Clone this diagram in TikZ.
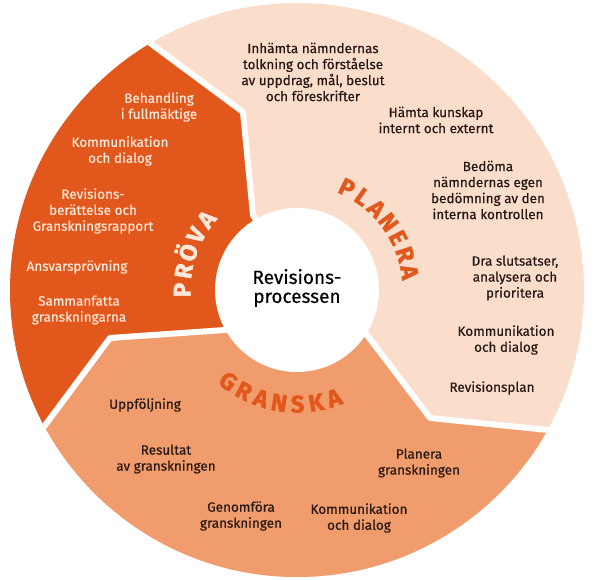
\documentclass[tikz,border=0pt]{standalone}
\usepackage{fontspec}
\setmainfont{Fira Sans}[UprightFeatures = {FakeBold = 0.4}, BoldFeatures = {FakeBold = 1.5}]
\definecolor{planera}{RGB}{250,221,203}
\definecolor{prova}{RGB}{226,88,28}
\definecolor{granska}{RGB}{240,156,108}
\definecolor{textdark}{RGB}{38,24,20}
\definecolor{textlight}{RGB}{253,232,218}

\begin{document}
\begin{tikzpicture}[
    x = 1pt, y = -1pt,
    item/.style = {align = center, text = textdark,
        font = \fontsize{13.5}{16}\selectfont},
    itemlight/.style = {item, text = textlight},
    letter/.style = {inner sep = 0pt, text height = 17pt, text depth = 0pt,
        font = \fontsize{24}{24}\selectfont\bfseries},
    gap/.style = {draw = white, line width = 6pt, line join = round}
]

\useasboundingbox (0,0) rectangle (595,580);

% centre and the three borders between the phases
\coordinate (c) at (297,290);
\coordinate (b1o) at (57,-26);
\coordinate (b1a) at (150,43);
\coordinate (b1b) at (243,112);
\coordinate (b1c) at (253,215);
\coordinate (b2o) at (-10,499);
\coordinate (b2a) at (43,428);
\coordinate (b2b) at (110,338);
\coordinate (b2c) at (225,330);
\coordinate (b3o) at (640,440);
\coordinate (b3a) at (548,430);
\coordinate (b3b) at (430,418);
\coordinate (b3c) at (367,335);

\begin{scope}
    \clip (c) circle [radius = 287pt];
    \fill[planera] (c) circle [radius = 287pt];
    \fill[prova] (b1o) -- (b1a) -- (b1b) -- (b1c) -- (c) -- (b2c) -- (b2b)
        -- (b2a) -- (b2o) -- (-30,499) -- (-30,-26) -- cycle;
    \fill[granska] (b2o) -- (b2a) -- (b2b) -- (b2c) -- (c) -- (b3c) -- (b3b)
        -- (b3a) -- (b3o) -- (640,640) -- (-30,640) -- (-30,499) -- cycle;
    \draw[gap] (b1o) -- (b1a) -- (b1b) -- (b1c) -- (c);
    \draw[gap] (b2o) -- (b2a) -- (b2b) -- (b2c) -- (c);
    \draw[gap] (b3o) -- (b3a) -- (b3b) -- (b3c) -- (c);
\end{scope}

\fill[white] (c) circle [radius = 82pt];
\node[align = center, text = black, font = \fontsize{19}{19}\selectfont]
    (title) at (297,288) {Revisions-\\processen};

% phase names along the ring
\foreach \ch [count = \i from 0] in {P,L,A,N,E,R,A}
    \node[letter, text = prova, rotate = {64-9.17*\i-90}] (pl\i)
        at ({297+114*cos(64-9.17*\i)}, {290-114*sin(64-9.17*\i)}) {\ch};
\foreach \ch [count = \i from 0] in {P,R,Ö,V,A}
    \node[letter, text = textlight, rotate = {180-9.5*\i-90}] (pr\i)
        at ({297+115*cos(180-9.5*\i)}, {290-115*sin(180-9.5*\i)}) {\ch};
\foreach \ch [count = \i from 0] in {G,R,A,N,S,K,A}
    \node[letter, text = prova, rotate = {233+9.33*\i+90}] (gr\i)
        at ({297+114*cos(233+9.33*\i)}, {290-114*sin(233+9.33*\i)}) {\ch};

% planera
\node[item] (pla1) at (313,72) {Inhämta nämndernas\\tolkning och förståelse\\av uppdrag, mål, beslut\\och föreskrifter};
\node[item] (pla2) at (436,120) {Hämta kunskap\\internt och externt};
\node[item] (pla3) at (488,190) {Bedöma\\nämndernas egen\\bedömning av den\\interna kontrollen};
\node[item] (pla4) at (515,278) {Dra slutsatser,\\analysera och\\prioritera};
\node[item] (pla5) at (506,340) {Kommunikation\\och dialog};
\node[item] (pla6) at (492,388) {Revisionsplan};

% prova
\node[itemlight] (pro1) at (159,107) {Behandling\\i fullmäktige};
\node[itemlight] (pro2) at (120,151) {Kommunikation\\och dialog};
\node[itemlight] (pro3) at (93,211) {Revisions-\\berättelse och\\Granskningsrapport};
\node[itemlight] (pro4) at (77,267) {Ansvarsprövning};
\node[itemlight] (pro5) at (79,310) {Sammanfatta\\granskningarna};

% granska
\node[item] (gra1) at (145,405) {Uppföljning};
\node[item] (gra2) at (166,459) {Resultat\\av granskningen};
\node[item] (gra3) at (241,516) {Genomföra\\granskningen};
\node[item] (gra4) at (359,518) {Kommunikation\\och dialog};
\node[item] (gra5) at (419,463) {Planera\\granskningen};

\end{tikzpicture}
\end{document}
